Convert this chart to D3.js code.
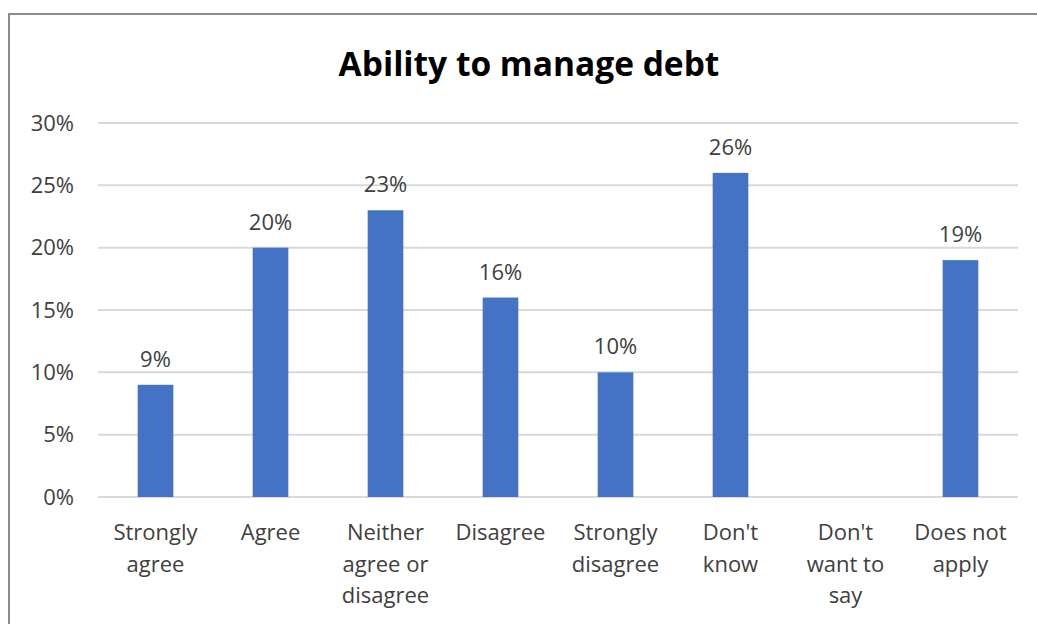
<!DOCTYPE html>
<html>
<head>
<meta charset="utf-8">
<script src="https://cdn.jsdelivr.net/npm/d3@7"></script>
<style>
  html, body { margin: 0; padding: 0; background: #fff; }
  svg { display: block; font-family: "Open Sans", sans-serif; }
</style>
</head>
<body>
<div id="chart"></div>
<script>
const categories = [
  ['Strongly', 'agree'],
  ['Agree'],
  ['Neither', 'agree or', 'disagree'],
  ['Disagree'],
  ['Strongly', 'disagree'],
  ["Don't", 'know'],
  ["Don't", 'want to', 'say'],
  ['Does not', 'apply']
];
const values = [9, 20, 23, 16, 10, 26, null, 19];
const yTicks = [0, 5, 10, 15, 20, 25, 30];

const width = 1037, height = 624;
const margin = { top: 123, right: 19, bottom: 127, left: 98 };
const font = '"Open Sans", sans-serif';
const labelSize = '22px';

const svg = d3.select('#chart').append('svg')
  .attr('width', width)
  .attr('height', height);

// outer frame (only top/left edges in view)
svg.append('rect')
  .attr('x', 9).attr('y', 14)
  .attr('width', 1100).attr('height', 700)
  .attr('fill', 'none')
  .attr('stroke', '#8c8c8c')
  .attr('stroke-width', 2);

const x = d3.scaleBand()
  .domain(d3.range(categories.length))
  .range([margin.left, width - margin.right])
  .paddingInner(0.69)
  .paddingOuter(0.345);

const y = d3.scaleLinear()
  .domain([0, 30])
  .range([height - margin.bottom, margin.top]);

svg.append('text')
  .attr('x', 529)
  .attr('y', 76)
  .attr('text-anchor', 'middle')
  .style('font-size', '33.5px')
  .style('font-weight', 'bold')
  .style('fill', '#000')
  .text('Ability to manage debt');

// gridlines
svg.append('g')
  .selectAll('line')
  .data(yTicks)
  .enter()
  .append('line')
  .attr('x1', margin.left)
  .attr('x2', width - margin.right)
  .attr('y1', d => y(d))
  .attr('y2', d => y(d))
  .attr('stroke', '#d9d9d9')
  .attr('stroke-width', 2);

// y axis labels
const yAxis = svg.append('g')
  .attr('transform', `translate(${margin.left},0)`)
  .call(d3.axisLeft(y).tickValues(yTicks).tickFormat(d => d + '%').tickSize(0).tickPadding(24));
yAxis.select('.domain').remove();
yAxis.selectAll('text')
  .style('font-family', font)
  .style('font-size', labelSize)
  .style('fill', '#404040');

const points = values.map((v, i) => ({ v, i })).filter(d => d.v != null);

// bars
svg.append('g')
  .selectAll('rect')
  .data(points)
  .enter()
  .append('rect')
  .attr('x', d => x(d.i))
  .attr('y', d => y(d.v))
  .attr('width', x.bandwidth())
  .attr('height', d => y(0) - y(d.v))
  .attr('fill', '#4472c4');

// data labels
svg.append('g')
  .selectAll('text')
  .data(points)
  .enter()
  .append('text')
  .attr('x', d => x(d.i) + x.bandwidth() / 2)
  .attr('y', d => y(d.v) - 18)
  .attr('text-anchor', 'middle')
  .style('font-size', labelSize)
  .style('fill', '#404040')
  .text(d => d.v + '%');

// category labels
const cat = svg.append('g')
  .selectAll('text')
  .data(categories)
  .enter()
  .append('text')
  .attr('text-anchor', 'middle')
  .style('font-size', labelSize)
  .style('fill', '#404040');

cat.selectAll('tspan')
  .data((d, i) => d.map(line => ({ line, i })))
  .enter()
  .append('tspan')
  .attr('x', d => x(d.i) + x.bandwidth() / 2)
  .attr('y', (d, j) => y(0) + 43 + j * 31.5)
  .text(d => d.line);
</script>
</body>
</html>
